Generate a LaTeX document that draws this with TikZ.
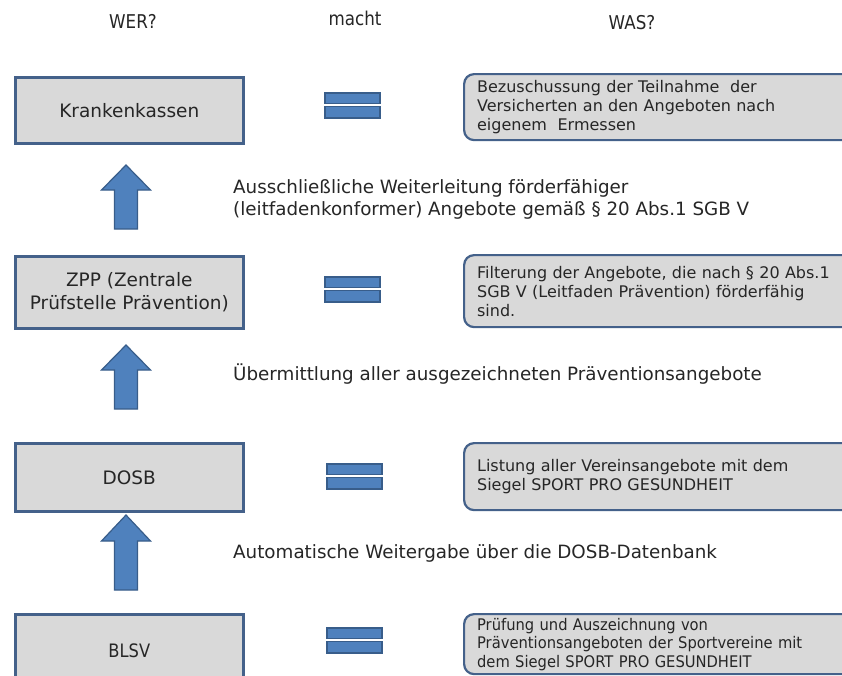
\documentclass[tikz,border=0pt]{standalone}
\usepackage{fontspec}
\setmainfont{DejaVu Sans}
\newfontfamily\condfont[FakeStretch=0.88]{DejaVu Sans}
\newfontfamily\semifont[FakeStretch=0.92]{DejaVu Sans}
\definecolor{boxfill}{HTML}{D9D9D9}
\definecolor{boxline}{HTML}{44618A}
\definecolor{arrfill}{HTML}{4F81BD}
\definecolor{arrline}{HTML}{385D8A}
\definecolor{txt}{HTML}{262626}
\newcommand{\uparr}[4]{% x, tip y, headbase y, bottom y
  \filldraw[arrowshape] (#1,#2) -- (#1+24.5,#3) -- (#1+11.5,#3) -- (#1+11.5,#4) -- (#1-11.5,#4) -- (#1-11.5,#3) -- (#1-24.5,#3) -- cycle;}
\newcommand{\eqsign}[2]{% x left, y top
  \filldraw[eqshape] (#1,#2) rectangle (#1+55,#2+10.5);
  \filldraw[eqshape] (#1,#2+13.5) rectangle (#1+55,#2+25);}
\begin{document}
\begin{tikzpicture}[x=1pt,y=-1pt,
  whobox/.style={draw=boxline, line width=2.6pt, fill=boxfill, minimum width=228pt, anchor=north west, align=center, font=\fontsize{18.5}{23}\selectfont, text=txt, inner sep=0pt},
  desc/.style={draw=boxline, line width=2.2pt, fill=boxfill, rounded corners=10pt, minimum width=400pt, anchor=north west, text width=374pt, inner xsep=13pt, align=left, font=\fontsize{16}{19}\selectfont, text=txt},
  lbl/.style={anchor=west, align=left, font=\fontsize{18.3}{22}\selectfont, text=txt, inner sep=0pt},
  head/.style={font=\condfont\fontsize{19}{22}\selectfont, text=txt, inner sep=0pt},
  arrowshape/.style={fill=arrfill, draw=arrline, line width=1.2pt, line join=miter},
  eqshape/.style={fill=arrfill, draw=arrline, line width=1.6pt}]
\clip (0,0) rectangle (842,675);
\fill[white] (0,0) rectangle (842,675);
% headers
\node[head] (wer) at (133,21) {WER?};
\node[head] (macht) at (355,18) {macht};
\node[head] (was) at (632,23) {WAS?};
% left boxes
\node[whobox, minimum height=66pt] (kk) at (14,76) {Krankenkassen};
\node[whobox, minimum height=72pt] (zpp) at (14,255) {ZPP (Zentrale\\Prüfstelle Prävention)};
\node[whobox, minimum height=68pt] (dosb) at (14,442) {DOSB};
\node[whobox, minimum height=72pt, font=\condfont\fontsize{18.5}{23}\selectfont] (blsv) at (14,613) {BLSV};
% right boxes
\node[desc, minimum height=66pt] (dkk) at (463,73) {Bezuschussung der Teilnahme\ \ der\\Versicherten an den Angeboten nach\\eigenem\ \ Ermessen};
\node[desc, minimum height=72pt] (dzpp) at (463,254) {Filterung der Angebote, die nach § 20 Abs.1\\SGB V (Leitfaden Prävention) förderfähig\\sind.};
\node[desc, minimum height=67pt] (ddosb) at (463,442) {Listung aller Vereinsangebote mit dem\\Siegel SPORT PRO GESUNDHEIT};
\node[desc, minimum height=60pt, font=\semifont\fontsize{16}{18.5}\selectfont] (dblsv) at (463,613) {Prüfung und Auszeichnung von\\Präventionsangeboten der Sportvereine mit\\dem Siegel SPORT PRO GESUNDHEIT};
% equal signs
\eqsign{325}{93}
\eqsign{325}{277}
\eqsign{327}{464}
\eqsign{327}{628}
% arrows
\uparr{126}{165}{190}{229}
\uparr{126}{345}{370}{409}
\uparr{126}{515}{541}{590}
% labels
\node[lbl] (l1) at (233,199) {Ausschließliche Weiterleitung förderfähiger\\(leitfadenkonformer) Angebote gemäß § 20 Abs.1 SGB V};
\node[lbl] (l2) at (233,374) {Übermittlung aller ausgezeichneten Präventionsangebote};
\node[lbl] (l3) at (233,553) {Automatische Weitergabe über die DOSB-Datenbank};
\end{tikzpicture}
\end{document}
